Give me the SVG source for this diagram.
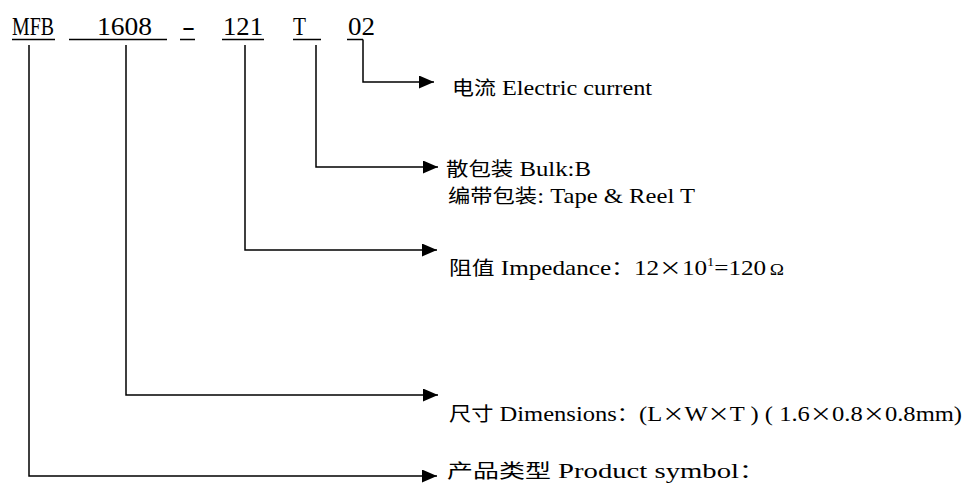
<svg xmlns="http://www.w3.org/2000/svg" width="970" height="484" viewBox="0 0 970 484">
<style>
.code{font-family:"Liberation Serif","DejaVu Serif",serif;font-size:25px;fill:#000}
.lbl{font-family:"Liberation Serif","Noto Sans CJK SC",serif;font-size:21px;fill:#000}
.cjk{font-family:"Noto Sans CJK SC","Liberation Serif",sans-serif;font-size:19px}
.ul{stroke:#000;stroke-width:1.4;fill:none}
.conn{stroke:#000;stroke-width:1.5;fill:none}
</style>
<defs>
<marker id="ah" markerUnits="userSpaceOnUse" markerWidth="16" markerHeight="14" refX="15" refY="6.5" orient="auto" viewBox="0 0 16 14">
<path d="M0,0 L15,6.5 L0,13 z" fill="#000"/>
</marker>
</defs>
<g id="code">
<text class="code" x="12" y="35" textLength="42" lengthAdjust="spacingAndGlyphs">MFB</text>
<text class="code" x="97" y="35" textLength="55" lengthAdjust="spacingAndGlyphs">1608</text>
<text class="code" x="182" y="35" textLength="13" lengthAdjust="spacingAndGlyphs">-</text>
<text class="code" x="223" y="35" textLength="40" lengthAdjust="spacingAndGlyphs">121</text>
<text class="code" x="293" y="35" textLength="13" lengthAdjust="spacingAndGlyphs">T</text>
<text class="code" x="348" y="35" textLength="27" lengthAdjust="spacingAndGlyphs">02</text>
<path class="ul" d="M12,39.5H55M69,39.5H167M180,39.5H195M222,39.5H264M293,39.5H321M347,39.5H363"/>
</g>
<g id="connectors">
<path class="conn" d="M363,39.5V82H434" marker-end="url(#ah)"/>
<path class="conn" d="M316,45V167H438" marker-end="url(#ah)"/>
<path class="conn" d="M245,45V250H437" marker-end="url(#ah)"/>
<path class="conn" d="M126,45V395H438" marker-end="url(#ah)"/>
<path class="conn" d="M29,45V476H437" marker-end="url(#ah)"/>
</g>
<g id="current">
<text class="lbl" x="452" y="95" textLength="200" lengthAdjust="spacingAndGlyphs"><tspan class="cjk">电流</tspan> Electric current</text>
</g>
<g id="packing">
<text class="lbl" x="446" y="176" textLength="145" lengthAdjust="spacingAndGlyphs"><tspan class="cjk">散包装</tspan> Bulk:B</text>
<text class="lbl" x="448" y="203" textLength="247" lengthAdjust="spacingAndGlyphs"><tspan class="cjk">编带包装</tspan>: Tape &amp; Reel T</text>
</g>
<g id="impedance">
<text class="lbl" x="449" y="275" textLength="335" lengthAdjust="spacingAndGlyphs"><tspan class="cjk">阻值</tspan> Impedance<tspan class="cjk">：</tspan>12<tspan class="cjk">×</tspan>10<tspan font-size="12" dy="-9">1</tspan><tspan dy="9">=120</tspan><tspan dx="3" font-size="16">Ω</tspan></text>
</g>
<g id="dimensions">
<text class="lbl" x="449" y="421" textLength="513" lengthAdjust="spacingAndGlyphs"><tspan class="cjk">尺寸</tspan> Dimensions<tspan class="cjk">：</tspan>(L<tspan class="cjk">×</tspan>W<tspan class="cjk">×</tspan>T ) ( 1.6<tspan class="cjk">×</tspan>0.8<tspan class="cjk">×</tspan>0.8mm)</text>
</g>
<g id="product">
<text class="lbl" x="447" y="478" textLength="318" lengthAdjust="spacingAndGlyphs"><tspan class="cjk">产品类型</tspan> Product symbol<tspan class="cjk">：</tspan></text>
</g>
</svg>
